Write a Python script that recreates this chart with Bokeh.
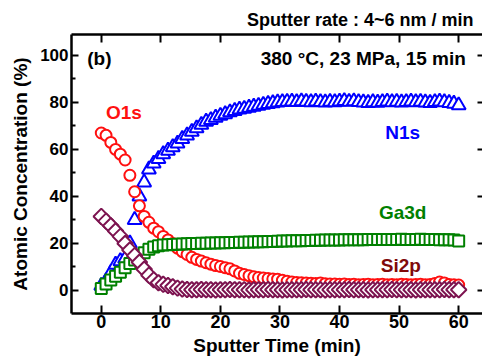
import math
from bokeh.plotting import figure
from bokeh.models import Range1d, LinearAxis, FixedTicker, Label, CustomJSTickFormatter
from bokeh.embed import file_html
from bokeh.resources import INLINE

# ---- data ----
time_min = [0.0, 0.8, 1.6, 2.4, 3.2, 4.0, 4.8, 5.6, 6.4, 7.2,
            8.0, 8.8, 9.6, 10.4, 11.2, 12.0, 12.8, 13.6, 14.4, 15.2,
            16.0, 16.8, 17.6, 18.4, 19.2, 20.0, 20.8, 21.6, 22.4, 23.2,
            24.0, 24.8, 25.6, 26.4, 27.2, 28.0, 28.8, 29.6, 30.4, 31.2,
            32.0, 32.8, 33.6, 34.4, 35.2, 36.0, 36.8, 37.6, 38.4, 39.2,
            40.0, 40.8, 41.6, 42.4, 43.2, 44.0, 44.8, 45.6, 46.4, 47.2,
            48.0, 48.8, 49.6, 50.4, 51.2, 52.0, 52.8, 53.6, 54.4, 55.2,
            56.0, 56.8, 57.6, 58.4, 59.2, 60.0]

o1s = [67.0, 66.0, 63.0, 60.0, 58.0, 55.5, 49.0, 42.0, 36.0, 31.5,
       29.0, 26.5, 25.0, 23.0, 21.5, 20.0, 18.0, 16.5, 15.3, 14.1,
       13.2, 12.5, 11.8, 11.2, 10.6, 10.2, 9.7, 9.2, 8.3, 7.3,
       6.8, 6.3, 5.8, 5.5, 5.3, 5.1, 4.9, 4.8, 4.3, 3.9,
       3.6, 3.4, 3.3, 3.2, 3.1, 3.0, 3.2, 2.9, 2.8, 2.7,
       2.6, 2.7, 2.5, 2.6, 2.4, 2.5, 2.6, 2.4, 2.5, 2.6,
       2.4, 2.5, 2.4, 2.6, 2.5, 2.4, 2.5, 2.6, 2.4, 2.5,
       3.0, 3.6, 3.2, 2.5, 2.4, 2.3]

n1s = [2.0, 4.0, 7.5, 11.0, 12.5, 13.5, 20.0, 30.0, 40.0, 46.0,
       51.5, 54.0, 56.0, 58.0, 59.5, 61.0, 62.5, 64.5, 66.0, 67.5,
       69.0, 70.5, 71.8, 72.5, 73.5, 74.3, 75.0, 75.8, 76.4, 77.0,
       77.3, 77.8, 78.2, 78.6, 79.0, 79.4, 79.7, 80.0, 80.2, 80.3,
       80.4, 80.2, 80.5, 80.3, 80.1, 80.4, 80.2, 80.0, 80.3, 80.1,
       80.4, 80.6, 80.3, 80.5, 80.2, 80.0, 79.8, 80.1, 79.9, 80.2,
       80.4, 80.1, 80.3, 80.0, 80.2, 80.4, 80.1, 80.3, 80.0, 79.8,
       80.2, 80.4, 80.1, 79.8, 79.5, 78.8]

ga3d = [0.8, 2.8, 4.5, 6.0, 7.8, 9.7, 11.5, 13.0, 14.5, 16.0,
        17.5, 18.5, 19.0, 19.3, 19.4, 19.6, 19.7, 19.8, 19.9, 20.0,
        20.0, 20.1, 20.1, 20.2, 20.2, 20.3, 20.3, 20.4, 20.4, 20.5,
        20.5, 20.6, 20.6, 20.7, 20.7, 20.8, 20.8, 20.9, 21.0, 21.0,
        21.1, 21.1, 21.2, 21.3, 21.3, 21.4, 21.4, 21.5, 21.5, 21.5,
        21.5, 21.6, 21.6, 21.6, 21.6, 21.6, 21.7, 21.7, 21.7, 21.7,
        21.7, 21.7, 21.7, 21.8, 21.7, 21.7, 21.7, 21.8, 21.7, 21.7,
        21.7, 21.6, 21.6, 21.6, 21.5, 21.0]

si2p = [31.5, 29.5, 27.5, 25.3, 23.0, 20.0, 17.2, 14.8, 12.0, 9.0,
        6.5, 4.5, 3.3, 2.6, 2.1, 1.6, 1.0, 0.6, 0.4, 0.3,
        0.3, 0.4, 0.3, 0.3, 0.2, 0.3, 0.3, 0.4, 0.3, 0.3,
        0.3, 0.2, 0.3, 0.3, 0.3, 0.4, 0.3, 0.3, 0.2, 0.3,
        0.3, 0.3, 0.3, 0.4, 0.3, 0.3, 0.3, 0.2, 0.3, 0.3,
        0.3, 0.3, 0.4, 0.3, 0.3, 0.3, 0.2, 0.3, 0.3, 0.3,
        0.3, 0.4, 0.3, 0.3, 0.3, 0.3, 0.2, 0.3, 0.3, 0.3,
        0.3, 0.3, 0.4, 0.3, 0.3, 0.3]

x_ticks = [0, 10, 20, 30, 40, 50, 60]
y_ticks = [0, 20, 40, 60, 80, 100]
y_minor = [10, 30, 50, 70, 90]

RED = "#ff1010"
BLUE = "#0000ff"
GREEN = "#008000"
MAROON = "#7d1450"
SI_TEXT = "#800a0a"
FONT = "Liberation Sans"

p = figure(width=482, height=361, output_backend="svg", toolbar_location=None,
           x_range=Range1d(-5, 64), y_range=Range1d(-9.8, 108.9),
           x_axis_location=None, y_axis_location=None)
p.min_border_left = 71
p.min_border_right = 0
p.min_border_top = 34
p.min_border_bottom = 48
p.outline_line_color = None
p.xgrid.visible = False
p.ygrid.visible = False
p.background_fill_color = "white"
p.border_fill_color = "white"

p.title.text = "Sputter rate : 4~6 nm / min"
p.title.align = "right"
p.title.text_font = FONT
p.title.text_font_style = "bold"
p.title.text_font_size = "18px"
p.title.text_color = "black"
p.title.standoff = 10
p.title.offset = 9

blank = CustomJSTickFormatter(code="return ''")

def style_axis(ax, ticks, minor, tick_len, size="17px"):
    ax.ticker = FixedTicker(ticks=ticks, minor_ticks=minor)
    ax.axis_line_width = 2.5
    ax.axis_line_color = "black"
    ax.major_tick_line_width = 2
    ax.minor_tick_line_width = 2
    ax.major_tick_out = 0
    ax.major_tick_in = tick_len
    ax.minor_tick_out = 0
    ax.minor_tick_in = 4 if minor else 0
    ax.major_label_text_font = FONT
    ax.major_label_text_font_style = "bold"
    ax.major_label_text_font_size = size
    ax.major_label_text_color = "black"
    ax.axis_label_text_font = FONT
    ax.axis_label_text_font_style = "bold"
    ax.axis_label_text_font_size = "19px"
    ax.axis_label_text_color = "black"

left = LinearAxis(axis_label="Atomic Concentration (%)")
style_axis(left, y_ticks, y_minor, 7, "17px")
left.major_label_standoff = 3
left.axis_label_standoff = 6
p.add_layout(left, "left")

bottom = LinearAxis(axis_label="Sputter Time (min)")
style_axis(bottom, x_ticks, [], 8, "18px")
bottom.major_label_standoff = 1
bottom.axis_label_standoff = 4
p.add_layout(bottom, "below")

top = LinearAxis(formatter=blank)
style_axis(top, x_ticks, [], 8)
top.major_label_standoff = 0
p.add_layout(top, "above")

right = LinearAxis(formatter=blank)
style_axis(right, y_ticks, [], 5)
right.axis_line_color = None
right.major_label_standoff = 0
p.add_layout(right, "right")

lw = 2
p.scatter(time_min, n1s, marker="triangle", size=14, line_color=BLUE,
          fill_color="white", line_width=lw)
p.scatter(time_min, o1s, marker="circle", size=11, line_color=RED,
          fill_color="white", line_width=lw)
p.scatter(time_min, ga3d, marker="square", size=11, line_color=GREEN,
          fill_color="white", line_width=lw)
p.scatter(time_min, si2p, marker="square", size=11, angle=math.pi / 4,
          line_color=MAROON, fill_color="white", line_width=lw)

def add_label(x, y, text, color="black", align="center", size="19px"):
    p.add_layout(Label(x=x, y=y, text=text, text_color=color,
                       text_font=FONT, text_font_style="bold",
                       text_font_size=size, text_align=align,
                       text_baseline="middle"))

add_label(-2.35, 98.7, "(b)", align="left")
add_label(61.2, 98.7, "380 \u00b0C, 23 MPa, 15 min", align="right")
add_label(3.8, 75.7, "O1s", color=RED)
add_label(50.6, 67.2, "N1s", color=BLUE)
add_label(50.6, 33.2, "Ga3d", color=GREEN)
add_label(50.3, 10.6, "Si2p", color=SI_TEXT)

open("out.html", "w").write(file_html(p, INLINE))
